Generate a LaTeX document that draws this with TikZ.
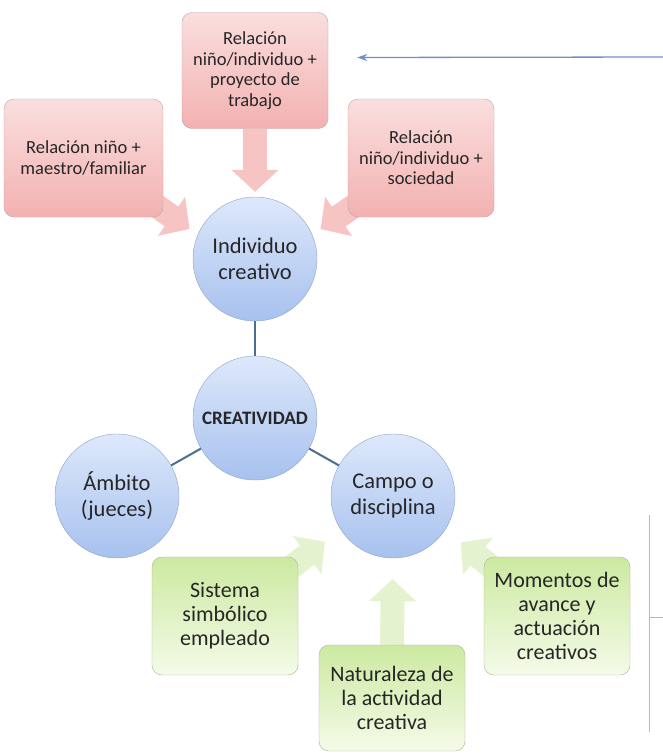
\documentclass[tikz,border=0pt]{standalone}
\usepackage{fontspec}
\setmainfont{Carlito}
\usepackage{tikz}
\usetikzlibrary{arrows.meta,positioning,backgrounds}
\usepackage{xcolor}
\definecolor{pinktop}{HTML}{FADEDE}
\definecolor{pinkbot}{HTML}{F3B1B1}
\definecolor{pinkline}{HTML}{C9A3A3}
\definecolor{pinkfat}{HTML}{F7C4C4}
\definecolor{bluetop}{HTML}{DDE8FB}
\definecolor{bluebot}{HTML}{A7C1EE}
\definecolor{blueline}{HTML}{8DA3C6}
\definecolor{greentop}{HTML}{CCE9A0}
\definecolor{greenbot}{HTML}{F4FBE9}
\definecolor{greenline}{HTML}{A9B398}
\definecolor{greenfat}{HTML}{E4F2CF}
\definecolor{linkcol}{HTML}{4E6D94}
\definecolor{arrowblue}{HTML}{6F8FCB}
\definecolor{sidecol}{HTML}{A9B9D9}
\definecolor{txt}{HTML}{262626}

\begin{document}
\begin{tikzpicture}[x=1pt, y=-1pt,
    pinkbox/.style={draw=pinkline, top color=pinktop, bottom color=pinkbot,
                    rounded corners=10pt, minimum width=146pt, minimum height=118pt,
                    align=center, text=txt, font=\fontsize{18.5}{20.5}\selectfont},
    greenbox/.style={draw=greenline, top color=greentop, bottom color=greenbot,
                     rounded corners=10pt, minimum width=146pt, minimum height=118pt,
                     align=center, text=txt, font=\fontsize{22}{24}\selectfont},
    bubble/.style={circle, draw=blueline, top color=bluetop, bottom color=bluebot,
                   minimum size=124pt, inner sep=0pt, align=center, text=txt,
                   font=\fontsize{22.5}{25.5}\selectfont},
    link/.style={draw=linkcol, line width=2pt},
    fatarr/.style={line width=24pt, -{Triangle[length=22pt 0 0, width=46pt 0 0]}},
    pinkarr/.style={fatarr, draw=pinkfat},
    greenarr/.style={fatarr, draw=greenfat},
    thinarr/.style={-{Stealth[length=10pt, width=7pt]}, draw=arrowblue, line width=1.3pt},
    sideline/.style={draw=sidecol, line width=1pt}
  ]
  \useasboundingbox (0,0) rectangle (663,755);
  % Relaciones del individuo
  \node[pinkbox, minimum height=116pt] (top) at (255,70.5)
        {Relación\\niño/individuo +\\proyecto de\\trabajo};
  \node[pinkbox, minimum width=159pt] (left) at (83.5,158)
        {Relación niño +\\maestro/familiar};
  \node[pinkbox] (right) at (421,158)
        {Relación\\niño/individuo +\\sociedad};
  % Circulos
  \node[bubble] (indiv) at (255,259) {Individuo\\creativo};
  \node[bubble, font=\fontsize{19}{22}\selectfont\bfseries] (crea) at (255,418) {CREATIVIDAD};
  \node[bubble] (ambito) at (117,496) {Ámbito\\(jueces)};
  \node[bubble] (campo) at (393,496) {Campo o\\disciplina};
  % Campo o disciplina
  \node[greenbox] (sistema) at (225,616) {Sistema\\simbólico\\empleado};
  \node[greenbox, minimum height=106pt] (natur) at (392,698)
        {Naturaleza de\\la actividad\\creativa};
  \node[greenbox] (momentos) at (557,616) {Momentos de\\avance y\\actuación\\creativos};
  % Lineas
  \draw[link] (indiv) -- (crea);
  \draw[link] (crea) -- (ambito);
  \draw[link] (crea) -- (campo);
  % Flecha azul y linea lateral
  \coordinate (src) at (663,57);
  \draw[thinarr] (src) -- ([shift={(29,-13)}]top.east);
  \draw[sideline] (649,515) -- (649,732);
  \draw[sideline] (649,617) -- (663,617);
  % Flechas gruesas
  \begin{scope}[on background layer]
    \fill[white] (0,0) rectangle (663,755);
    \draw[pinkarr, shorten >=5pt] (top.south) -- (indiv.north);
    \draw[pinkarr, shorten >=10pt] ([shift={(-22,-22)}]left.south east) -- (indiv.157);
    \draw[pinkarr, shorten >=10pt] ([shift={(22,-22)}]right.south west) -- (indiv.23);
    \draw[greenarr, shorten >=21pt] (natur.north) -- (campo.south);
    \draw[greenarr, shorten >=20pt] ([shift={(-20,20)}]sistema.north east) -- (campo.213);
    \draw[greenarr, shorten >=20pt] ([shift={(20,20)}]momentos.north west) -- (campo.327);
  \end{scope}
\end{tikzpicture}
\end{document}
